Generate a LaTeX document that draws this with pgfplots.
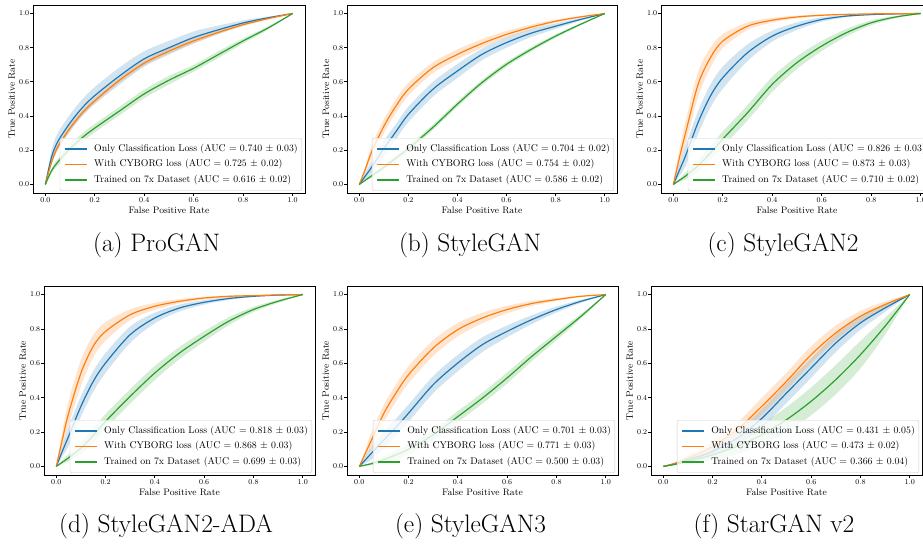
\documentclass[border=0pt]{standalone}
\usepackage{pgfplots}
\usepackage{pgfplotstable}
\pgfplotsset{compat=1.18}
\usepgfplotslibrary{fillbetween}
\definecolor{tabblue}{HTML}{1F77B4}
\definecolor{taborange}{HTML}{FF7F0E}
\definecolor{tabgreen}{HTML}{2CA02C}

\pgfplotstableread[row sep=\\]{
x bm bu bl om ou ol gm gu gl\\
0 0 0 0 0 0 0 0 0 0\\
0.025 0.16 0.20 0.12 0.13 0.145 0.115 0.08 0.095 0.065\\
0.05 0.25 0.30 0.20 0.22 0.235 0.205 0.13 0.15 0.11\\
0.1 0.36 0.41 0.31 0.33 0.345 0.315 0.21 0.235 0.185\\
0.15 0.45 0.50 0.40 0.42 0.435 0.405 0.275 0.30 0.25\\
0.2 0.52 0.57 0.47 0.49 0.505 0.475 0.33 0.355 0.305\\
0.3 0.635 0.685 0.585 0.61 0.625 0.595 0.43 0.455 0.405\\
0.4 0.735 0.78 0.69 0.71 0.725 0.695 0.53 0.555 0.505\\
0.5 0.80 0.84 0.76 0.78 0.795 0.765 0.61 0.635 0.585\\
0.6 0.86 0.895 0.825 0.84 0.855 0.825 0.68 0.70 0.66\\
0.7 0.905 0.93 0.88 0.89 0.90 0.88 0.76 0.78 0.74\\
0.8 0.945 0.96 0.93 0.935 0.945 0.925 0.84 0.855 0.825\\
0.9 0.975 0.982 0.968 0.97 0.975 0.965 0.915 0.925 0.905\\
1 1 1 1 1 1 1 1 1 1\\
}\tA

\pgfplotstableread[row sep=\\]{
x bm bu bl om ou ol gm gu gl\\
0 0 0 0 0 0 0 0 0 0\\
0.025 0.05 0.07 0.03 0.09 0.11 0.07 0.025 0.03 0.02\\
0.05 0.10 0.135 0.065 0.19 0.225 0.155 0.05 0.06 0.04\\
0.1 0.21 0.255 0.165 0.34 0.38 0.30 0.10 0.115 0.085\\
0.15 0.31 0.355 0.265 0.46 0.50 0.42 0.155 0.17 0.14\\
0.2 0.41 0.455 0.365 0.557 0.595 0.52 0.21 0.225 0.195\\
0.3 0.557 0.60 0.514 0.683 0.715 0.651 0.334 0.35 0.318\\
0.4 0.664 0.705 0.623 0.761 0.79 0.732 0.47 0.485 0.455\\
0.5 0.761 0.795 0.727 0.825 0.85 0.80 0.596 0.611 0.581\\
0.6 0.83 0.86 0.80 0.878 0.898 0.858 0.703 0.718 0.688\\
0.7 0.885 0.908 0.862 0.92 0.935 0.905 0.79 0.803 0.777\\
0.8 0.926 0.942 0.91 0.955 0.965 0.945 0.868 0.878 0.858\\
0.9 0.965 0.973 0.957 0.98 0.985 0.975 0.936 0.942 0.93\\
1 1 1 1 1 1 1 1 1 1\\
}\tB

\pgfplotstableread[row sep=\\]{
x bm bu bl om ou ol gm gu gl\\
0 0 0 0 0 0 0 0 0 0\\
0.025 0.085 0.12 0.05 0.16 0.21 0.11 0.025 0.035 0.015\\
0.05 0.17 0.23 0.11 0.305 0.375 0.235 0.05 0.07 0.03\\
0.1 0.363 0.43 0.296 0.586 0.66 0.512 0.11 0.145 0.075\\
0.15 0.518 0.585 0.451 0.742 0.80 0.684 0.185 0.225 0.145\\
0.2 0.625 0.69 0.56 0.839 0.88 0.798 0.266 0.31 0.222\\
0.3 0.771 0.82 0.722 0.926 0.948 0.904 0.42 0.465 0.375\\
0.4 0.868 0.90 0.836 0.961 0.975 0.947 0.586 0.63 0.542\\
0.5 0.926 0.948 0.904 0.98 0.988 0.972 0.713 0.75 0.676\\
0.6 0.965 0.978 0.952 0.99 0.995 0.985 0.81 0.84 0.78\\
0.7 0.985 0.991 0.979 0.995 0.998 0.992 0.888 0.91 0.866\\
0.8 0.994 0.997 0.991 0.998 0.999 0.997 0.946 0.96 0.932\\
0.9 0.998 0.999 0.997 0.999 1.0 0.998 0.98 0.987 0.973\\
1 1 1 1 1 1 1 1 1 1\\
}\tC

\pgfplotstableread[row sep=\\]{
x bm bu bl om ou ol gm gu gl\\
0 0 0 0 0 0 0 0 0 0\\
0.025 0.09 0.12 0.06 0.16 0.21 0.11 0.025 0.035 0.015\\
0.05 0.175 0.23 0.12 0.31 0.38 0.24 0.05 0.07 0.03\\
0.1 0.35 0.41 0.29 0.544 0.62 0.468 0.107 0.14 0.074\\
0.15 0.495 0.555 0.435 0.70 0.765 0.635 0.18 0.22 0.14\\
0.2 0.602 0.66 0.544 0.786 0.84 0.732 0.262 0.305 0.219\\
0.3 0.767 0.815 0.719 0.883 0.915 0.851 0.408 0.45 0.366\\
0.4 0.864 0.895 0.833 0.932 0.952 0.912 0.544 0.585 0.503\\
0.5 0.922 0.942 0.902 0.961 0.974 0.948 0.66 0.695 0.625\\
0.6 0.955 0.968 0.942 0.98 0.988 0.972 0.757 0.787 0.727\\
0.7 0.977 0.985 0.969 0.99 0.995 0.985 0.845 0.868 0.822\\
0.8 0.99 0.994 0.986 0.994 0.997 0.991 0.913 0.928 0.898\\
0.9 0.997 0.999 0.995 0.998 0.999 0.997 0.961 0.97 0.952\\
1 1 1 1 1 1 1 1 1 1\\
}\tD

\pgfplotstableread[row sep=\\]{
x bm bu bl om ou ol gm gu gl\\
0 0 0 0 0 0 0 0 0 0\\
0.025 0.039 0.06 0.018 0.078 0.10 0.056 0.008 0.012 0.004\\
0.05 0.078 0.115 0.041 0.155 0.20 0.11 0.016 0.025 0.007\\
0.1 0.155 0.205 0.105 0.31 0.36 0.26 0.04 0.06 0.02\\
0.15 0.23 0.28 0.18 0.43 0.48 0.38 0.068 0.093 0.043\\
0.2 0.31 0.36 0.26 0.534 0.584 0.484 0.10 0.13 0.07\\
0.3 0.476 0.526 0.426 0.689 0.735 0.643 0.184 0.214 0.154\\
0.4 0.602 0.65 0.554 0.796 0.835 0.757 0.29 0.322 0.258\\
0.5 0.709 0.752 0.666 0.864 0.895 0.833 0.398 0.43 0.366\\
0.6 0.786 0.82 0.752 0.913 0.935 0.891 0.515 0.547 0.483\\
0.7 0.854 0.88 0.828 0.948 0.962 0.934 0.64 0.668 0.612\\
0.8 0.913 0.93 0.896 0.971 0.98 0.962 0.757 0.78 0.734\\
0.9 0.961 0.97 0.952 0.99 0.994 0.986 0.874 0.888 0.86\\
1 1 1 1 1 1 1 1 1 1\\
}\tE

\pgfplotstableread[row sep=\\]{
x bm bu bl om ou ol gm gu gl\\
0 0 0 0 0 0 0 0 0 0\\
0.025 0.008 0.012 0.004 0.008 0.012 0.004 0.006 0.009 0.003\\
0.05 0.017 0.025 0.009 0.018 0.026 0.01 0.013 0.02 0.006\\
0.1 0.039 0.055 0.023 0.05 0.065 0.035 0.03 0.045 0.015\\
0.15 0.06 0.082 0.038 0.08 0.10 0.06 0.048 0.07 0.026\\
0.2 0.087 0.115 0.059 0.117 0.145 0.089 0.068 0.098 0.038\\
0.3 0.165 0.205 0.125 0.214 0.254 0.174 0.117 0.162 0.072\\
0.4 0.28 0.335 0.225 0.35 0.40 0.30 0.184 0.245 0.123\\
0.5 0.427 0.485 0.369 0.495 0.545 0.445 0.272 0.345 0.199\\
0.6 0.573 0.63 0.516 0.65 0.70 0.60 0.379 0.46 0.298\\
0.7 0.718 0.77 0.666 0.777 0.82 0.734 0.505 0.59 0.42\\
0.8 0.835 0.875 0.795 0.874 0.905 0.843 0.65 0.73 0.57\\
0.9 0.922 0.945 0.899 0.942 0.96 0.924 0.816 0.865 0.767\\
1 1 1 1 1 1 1 1 1 1\\
}\tF

\pgfplotsset{
  rocax/.style={
    scale only axis,
    xmin=-0.05, xmax=1.05, ymin=-0.05, ymax=1.05,
    anchor=north west,
    axis line style={black, line width=0.8pt},
    tick align=outside, xtick pos=bottom, ytick pos=left,
    major tick length=2.8pt, tick style={black, line width=0.8pt},
    xtick={0,0.2,0.4,0.6,0.8,1}, ytick={0,0.2,0.4,0.6,0.8,1},
    xticklabels={0.0,0.2,0.4,0.6,0.8,1.0},
    yticklabels={0.0,0.2,0.4,0.6,0.8,1.0},
    ticklabel style={font=\fontsize{7.5}{8}\selectfont},
    yticklabel style={inner xsep=0.8pt},
    xticklabel style={inner ysep=1.8pt},
    xlabel={False Positive Rate}, ylabel={True Positive Rate},
    label style={font=\fontsize{9.4}{11}\selectfont},
    xlabel style={at={(axis description cs:0.5,-0.092)}, anchor=center},
    ylabel style={at={(axis description cs:-0.078,0.5)}, anchor=center},
    legend cell align=left,
    legend image code/.code={\draw[##1] (0pt,0pt) -- (22pt,0pt);},
    legend style={at={(0.989,0.011)}, anchor=south east, draw=black!20,
      fill=white, fill opacity=0.8, text opacity=1, rounded corners=2pt,
      font=\fontsize{9.8}{11}\selectfont, inner xsep=4pt, inner ysep=3pt,
      column sep=7pt,
      nodes={inner xsep=0pt, inner ysep=3pt, text height=7pt, text depth=2.5pt}},
  }
}

\newcommand{\roc}[4]{%
  \addplot[name path=BU, draw=none, smooth, forget plot] table[x=x,y=bu]{#1};
  \addplot[name path=BL, draw=none, smooth, forget plot] table[x=x,y=bl]{#1};
  \addplot[fill=tabblue, fill opacity=0.2, draw=none, forget plot] fill between[of=BU and BL];
  \addplot[name path=OU, draw=none, smooth, forget plot] table[x=x,y=ou]{#1};
  \addplot[name path=OL, draw=none, smooth, forget plot] table[x=x,y=ol]{#1};
  \addplot[fill=taborange, fill opacity=0.2, draw=none, forget plot] fill between[of=OU and OL];
  \addplot[name path=GU, draw=none, smooth, forget plot] table[x=x,y=gu]{#1};
  \addplot[name path=GL, draw=none, smooth, forget plot] table[x=x,y=gl]{#1};
  \addplot[fill=tabgreen, fill opacity=0.2, draw=none, forget plot] fill between[of=GU and GL];
  \addplot[tabblue, line width=1.2pt, smooth] table[x=x,y=bm]{#1};
  \addlegendentry{Only Classification Loss (AUC = #2)}
  \addplot[taborange, line width=1.2pt, smooth] table[x=x,y=om]{#1};
  \addlegendentry{With CYBORG loss (AUC = #3)}
  \addplot[tabgreen, line width=1.2pt, smooth] table[x=x,y=gm]{#1};
  \addlegendentry{Trained on 7x Dataset (AUC = #4)}
}

\begin{document}
\begin{tikzpicture}
\path (0pt,0pt) rectangle (923pt,545pt);

\begin{axis}[rocax, at={(33pt,540pt)}, width=272pt, height=188pt]
\roc{\tA}{0.740 $\pm$ 0.03}{0.725 $\pm$ 0.02}{0.616 $\pm$ 0.02}
\end{axis}
\begin{axis}[rocax, at={(347pt,540pt)}, width=270pt, height=188pt]
\roc{\tB}{0.704 $\pm$ 0.02}{0.754 $\pm$ 0.02}{0.586 $\pm$ 0.02}
\end{axis}
\begin{axis}[rocax, at={(661pt,540pt)}, width=272pt, height=188pt]
\roc{\tC}{0.826 $\pm$ 0.03}{0.873 $\pm$ 0.03}{0.710 $\pm$ 0.02}
\end{axis}
\begin{axis}[rocax, at={(44pt,259pt)}, width=271pt, height=189pt]
\roc{\tD}{0.818 $\pm$ 0.03}{0.868 $\pm$ 0.03}{0.699 $\pm$ 0.03}
\end{axis}
\begin{axis}[rocax, at={(347pt,259pt)}, width=271pt, height=189pt]
\roc{\tE}{0.701 $\pm$ 0.03}{0.771 $\pm$ 0.03}{0.500 $\pm$ 0.03}
\end{axis}
\begin{axis}[rocax, at={(651pt,259pt)}, width=271pt, height=189pt]
\roc{\tF}{0.431 $\pm$ 0.05}{0.473 $\pm$ 0.02}{0.366 $\pm$ 0.04}
\end{axis}

\node[font=\fontsize{25.3}{30}\selectfont] at (156.7pt,300pt) {(a) ProGAN};
\node[font=\fontsize{25.3}{30}\selectfont] at (470pt,300pt) {(b) StyleGAN};
\node[font=\fontsize{25.3}{30}\selectfont] at (783pt,300pt) {(c) StyleGAN2};
\node[font=\fontsize{25.3}{30}\selectfont] at (166pt,19pt) {(d) StyleGAN2-ADA};
\node[font=\fontsize{25.3}{30}\selectfont] at (470.5pt,19pt) {(e) StyleGAN3};
\node[font=\fontsize{25.3}{30}\selectfont] at (774pt,19pt) {(f) StarGAN v2};

\pgfresetboundingbox
\useasboundingbox (0pt,0pt) rectangle (923pt,545pt);
\end{tikzpicture}
\end{document}
